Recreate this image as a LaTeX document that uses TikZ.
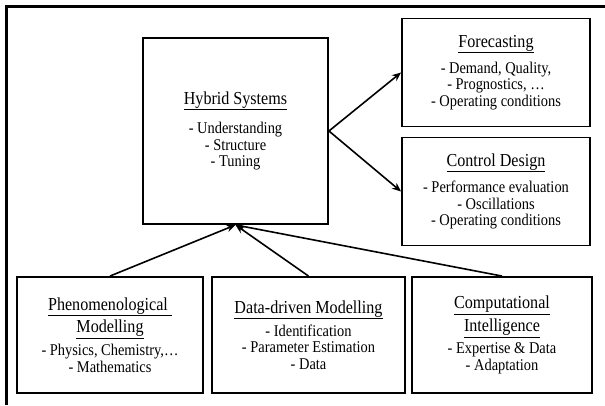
\documentclass[tikz,border=0pt]{standalone}
\usepackage{fontspec}
\setmainfont{Liberation Serif}[FakeStretch=0.88]
\usepackage{tikz}
\usetikzlibrary{arrows.meta}

\newcommand{\boxtitle}[1]{{\fontsize{18.3}{20}\selectfont\underline{#1}}}

\begin{document}
\begin{tikzpicture}[
  x=1pt, y=-1pt,
  font=\fontsize{16.4}{16.5}\selectfont,
  block/.style={draw, rectangle, line width=1.9pt, align=center, fill=white},
  usebox/.style={block, minimum width=188pt, minimum height=108pt},
  basebox/.style={block, minimum height=116pt},
  arr/.style={-{Stealth[length=9pt, width=7.5pt]}, line width=1.6pt},
  frame/.style={line width=3pt}
]
\useasboundingbox (0,0) rectangle (605,405);

%% Outer frame (top and left side only)
\draw[frame] (6,405) -- (6,6) -- (605,6);

%% Centre block
\node[block, minimum width=185pt, minimum height=186pt] (hybrid) at (235.5,131)
  {\boxtitle{Hybrid Systems}\\[11.5pt]
   - Understanding\\ - Structure\\ - Tuning};

%% Applications (right)
\node[usebox] (forecast) at (496,72.5)
  {\boxtitle{Forecasting}\\[8pt]
   - Demand, Quality,\\ - Prognostics, …\\ - Operating conditions};
\node[usebox] (control) at (496,191.5)
  {\boxtitle{Control Design}\\[8pt]
   - Performance evaluation\\ - Oscillations\\ - Operating conditions};

%% Modelling sources (bottom)
\node[basebox, minimum width=186pt] (pheno) at (110,335)
  {\boxtitle{Phenomenological\ }\\[3pt]\boxtitle{Modelling}\\[4.5pt]
   - Physics, Chemistry,…\\ - Mathematics};
\node[basebox, minimum width=193pt] (datamod) at (308.5,335)
  {\boxtitle{Data-driven Modelling}\\[4.5pt]
   - Identification\\ - Parameter Estimation\\ - Data};
\node[basebox, minimum width=180pt] (compint) at (502,335)
  {\boxtitle{Computational}\\[3pt]\boxtitle{Intelligence}\\[4.5pt]
   - Expertise \& Data\\ - Adaptation};

%% Connectors
\draw[arr] (hybrid.east) -- (forecast.west);
\draw[arr] (hybrid.east) -- (control.west);
\draw[arr] (pheno.north) -- (hybrid.south);
\draw[arr] (datamod.north) -- (hybrid.south);
\draw[arr] (compint.north) -- (hybrid.south);

\end{tikzpicture}
\end{document}
